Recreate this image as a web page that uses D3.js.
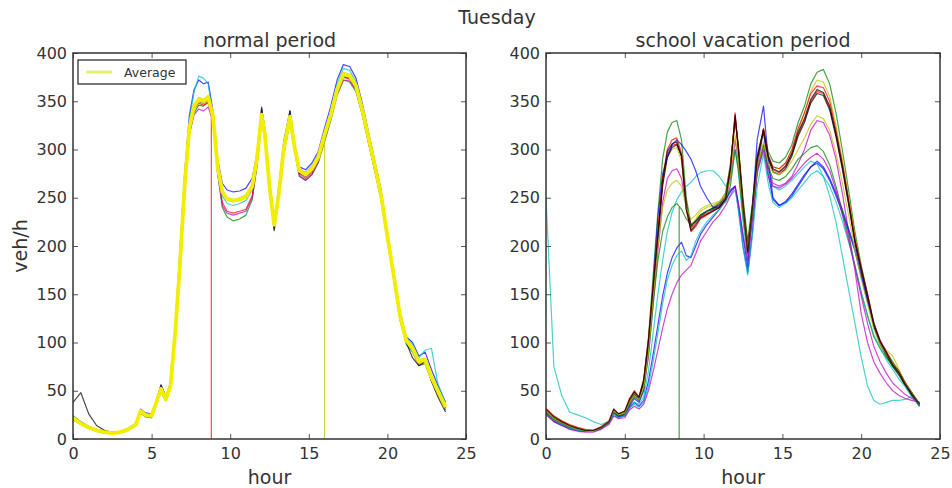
<!DOCTYPE html>
<html>
<head>
<meta charset="utf-8">
<script src="https://cdn.jsdelivr.net/npm/d3@7"></script>
<style>
  body { margin: 0; background: #fff; }
  svg { display: block; }
  text { font-family: "DejaVu Sans", sans-serif; fill: #333; }
</style>
</head>
<body>
<svg id="chart" width="952" height="488"></svg>
<script>
// Sampling hours shared by every daily profile
const hours = [0,0.5,1,1.5,2,2.5,3,3.5,4,4.3,4.6,5,5.3,5.6,5.9,6.2,6.5,6.8,7.1,7.4,7.7,8,8.3,8.6,8.9,9.2,9.5,9.8,10.2,10.6,11,11.4,11.7,12,12.2,12.5,12.8,13.1,13.4,13.8,14.1,14.4,14.8,15.2,15.6,16,16.4,16.8,17.2,17.6,18,18.4,18.8,19.2,19.6,20,20.4,20.8,21.2,21.6,22,22.4,22.8,23.2,23.7];

const xTicks = [0, 5, 10, 15, 20, 25];
const yTicks = [0, 50, 100, 150, 200, 250, 300, 350, 400];

// matplotlib classic colour cycle: b, g, r, c, m, y, k
const colorCycle = ["#0000ff", "#008000", "#ff0000", "#00bfbf", "#bf00bf", "#bfbf00", "#000000"];

// Normal period: individual Tuesdays (veh/h)
const normalB = [24,18,13,10,8,7,8,11,16,31,27,26,40,56,44,58,118,195,275,335,362,372,368,370,340,290,265,258,256,257,260,270,296,342,322,268,226,262,308,340,306,282,279,286,298,322,345,372,388,386,374,348,318,288,258,214,174,132,106,100,86,90,72,56,38];
const normalG = [20,15,11,8,6,6,6,9,14,27,23,22,36,50,40,52,105,172,255,315,338,346,345,350,330,275,240,230,226,228,232,248,282,330,310,255,218,250,294,328,298,272,268,274,286,308,330,356,372,370,360,336,306,278,248,205,166,124,98,90,76,78,60,46,30];
const normalR = [21,15,12,9,7,6,7,10,15,28,24,23,37,51,40,54,108,178,258,318,342,348,346,348,332,278,245,236,234,236,238,252,286,334,313,258,220,252,298,332,300,275,270,276,289,311,333,360,375,373,363,338,309,281,250,208,168,126,100,92,78,80,62,48,32];
const normalC = [23,17,13,10,8,7,8,11,16,30,26,25,39,54,43,57,115,188,270,330,360,376,374,368,336,285,252,244,242,244,247,258,288,338,318,264,224,258,304,338,304,280,276,283,295,318,340,368,384,382,370,346,316,286,256,212,172,130,105,98,84,92,94,58,36];
const normalM = [22,16,12,9,7,6,7,10,15,29,25,24,38,52,41,54,106,176,256,316,336,342,340,344,330,276,242,234,232,234,236,250,284,332,312,258,220,252,296,330,298,273,268,274,287,310,332,358,372,371,362,337,308,280,250,208,170,128,102,94,80,82,64,50,34];
const normalY = [22,16,12,9,7,6,7,10,15,29,25,24,38,52,41,55,110,182,262,322,346,354,352,356,336,284,258,250,248,250,253,264,292,338,318,264,224,256,302,336,304,280,276,282,294,316,338,364,380,378,368,343,314,285,254,212,172,130,104,96,82,84,66,52,35];
const normalK = [38,48,26,14,9,7,7,10,15,30,26,25,40,56,44,55,108,178,260,320,344,350,348,352,334,282,255,248,246,248,250,260,288,344,318,260,216,252,298,340,302,276,272,278,290,312,334,360,376,374,364,338,308,278,248,206,166,124,100,84,76,80,60,44,28];
const normalAverage = [22,16,12,9,7,6,7,10,15,29,25,24,38,52,41,55,110,180,262,322,345,352,350,354,335,282,256,249,247,248,251,262,290,336,316,262,222,255,300,334,302,278,274,280,292,315,336,362,378,376,366,341,312,283,252,210,170,128,102,94,80,82,64,50,33];
// Detector drop-outs: [series index, hour]
const normalDropouts = [[2, 8.8], [5, 16.0]];

// School vacation period: individual Tuesdays (veh/h)
const vacB  = [26,18,14,11,9,8,8,11,17,27,22,24,32,38,34,40,60,88,118,148,172,188,198,204,190,188,200,212,222,230,238,248,256,262,240,200,172,215,280,320,275,248,242,246,254,264,274,282,286,280,268,252,235,215,195,168,142,118,100,88,76,68,56,46,34];
const vacG  = [30,22,17,13,10,9,8,12,18,30,26,28,40,48,42,60,105,170,235,290,318,328,330,310,250,222,225,232,236,240,245,255,285,330,305,250,205,245,295,320,298,288,286,292,305,328,345,368,380,383,368,338,300,258,215,180,150,120,100,90,80,70,58,48,36];
const vacR  = [30,22,18,14,11,9,8,12,18,30,25,28,40,48,42,60,100,155,210,265,295,304,306,292,240,218,224,230,234,237,241,250,280,335,302,242,196,240,290,320,292,279,276,282,295,316,330,350,360,358,343,315,282,245,205,176,148,118,100,88,76,68,56,46,35];
const vacC  = [250,75,45,28,25,22,18,15,18,24,22,26,34,38,36,44,70,110,150,185,215,235,248,256,262,266,272,276,278,278,272,262,270,300,278,225,185,230,275,300,275,262,258,262,268,275,282,288,285,272,252,225,190,155,120,85,55,40,36,38,40,40,41,44,36];
const vacM  = [28,20,16,12,9,8,8,11,17,28,24,26,36,44,40,52,85,140,195,245,270,278,280,270,240,222,226,230,236,238,242,248,270,310,288,238,200,236,280,305,280,265,262,265,272,285,300,320,330,328,315,290,255,215,175,130,100,80,68,58,50,45,42,40,38];
const vacY  = [30,22,18,14,11,9,8,12,18,30,25,28,40,47,42,58,98,158,215,268,292,300,302,288,240,220,228,236,240,242,246,254,284,334,300,244,198,242,292,318,294,282,280,286,298,320,338,360,372,370,355,325,290,250,210,178,148,118,100,92,86,72,58,48,36];
const vacK  = [28,21,17,13,10,8,8,11,17,28,24,27,38,46,41,58,96,150,206,262,292,302,305,294,244,220,226,232,236,239,243,252,282,332,304,245,200,242,292,318,290,277,274,280,293,314,328,348,358,356,341,313,280,243,203,174,146,116,98,86,75,66,55,45,34];
const vacB2 = [27,19,15,11,9,8,8,11,17,28,23,25,34,42,38,50,95,160,230,275,292,305,310,305,298,290,278,262,250,240,240,248,258,262,245,210,178,240,310,345,290,250,242,245,252,262,272,282,288,282,270,255,238,218,198,170,144,120,102,90,78,70,58,48,36];
const vacG2 = [28,20,16,12,10,8,8,11,17,28,24,26,36,44,40,52,88,140,185,215,230,240,244,238,228,222,226,232,236,238,240,246,262,300,280,232,192,232,278,305,282,270,268,272,280,290,296,302,304,298,284,262,236,210,180,152,128,106,94,84,76,68,58,48,36];
const vacR2 = [32,24,19,15,12,10,9,13,19,31,26,29,42,50,44,62,104,160,215,270,300,310,312,296,238,215,220,228,232,236,240,248,278,338,300,240,193,238,288,322,294,282,280,286,300,322,338,358,366,364,350,320,286,248,208,178,150,120,102,90,78,70,58,48,37];
const vacC2 = [26,19,15,11,9,8,8,11,16,26,22,24,32,36,33,38,55,80,110,140,165,180,190,195,185,190,205,215,225,232,238,246,252,258,238,198,170,210,262,295,265,245,240,244,250,258,266,274,278,272,262,246,226,204,180,152,128,108,94,82,72,62,54,44,34];
const vacM2 = [25,18,14,10,8,7,7,10,15,24,21,22,30,34,31,36,50,70,92,115,135,150,162,170,175,180,192,205,215,225,232,242,252,262,245,212,185,228,276,300,272,262,260,264,270,278,286,292,296,290,278,258,232,206,178,148,120,96,80,68,58,52,46,42,38];
const vacY2 = [29,21,17,13,10,9,8,12,18,29,25,27,38,45,41,54,90,148,200,240,258,265,268,262,240,228,232,238,242,244,246,252,272,315,290,238,198,236,282,308,286,276,274,278,288,300,312,326,335,332,320,296,266,232,196,166,140,114,98,88,78,70,58,48,36];
const vacK2 = [31,23,18,14,11,9,9,12,18,31,26,29,41,49,43,61,102,158,212,268,298,306,308,293,238,216,222,229,233,236,240,249,279,336,301,241,194,239,289,321,293,280,277,283,296,318,332,352,362,359,345,317,284,246,206,177,149,119,101,89,77,69,57,47,36];
const vacationDropouts = [[8, 8.45]];

const normalSeries = [normalB, normalG, normalR, normalC, normalM, normalY, normalK];
const vacationSeries = [vacB, vacG, vacR, vacC, vacM, vacY, vacK, vacB2, vacG2, vacR2, vacC2, vacM2, vacY2, vacK2];

const svg = d3.select("#chart");
const plotTop = 53, plotBottom = 439;

svg.append("text")
  .attr("x", 497).attr("y", 24)
  .attr("text-anchor", "middle")
  .style("font-size", "19px")
  .text("Tuesday");

// Turn a value list into points, splicing in zero readings at drop-out hours
function toPoints(values, drops) {
  const pts = hours.map((h, i) => [h, values[i]]);
  drops.forEach(h => {
    const j = d3.bisectLeft(hours, h);
    const h0 = hours[j - 1], h1 = hours[j];
    const v = values[j - 1] + (values[j] - values[j - 1]) * (h - h0) / (h1 - h0);
    pts.splice(j, 0, [h, v], [h, 0], [h, v]);
  });
  return pts;
}

function drawPanel(id, left, right, title, series, drops, average, showYLabel) {
  const x = d3.scaleLinear().domain([0, 25]).range([left, right]);
  const y = d3.scaleLinear().domain([0, 400]).range([plotBottom, plotTop]);
  const g = svg.append("g");

  g.append("clipPath").attr("id", "clip-" + id)
    .append("rect")
    .attr("x", left).attr("y", plotTop)
    .attr("width", right - left).attr("height", plotBottom - plotTop);

  const line = d3.line().x(d => x(d[0])).y(d => y(d[1]));
  const plot = g.append("g").attr("clip-path", `url(#clip-${id})`);

  series.forEach((vals, i) => {
    const myDrops = drops.filter(d => d[0] === i).map(d => d[1]);
    plot.append("path")
      .datum(toPoints(vals, myDrops))
      .attr("fill", "none")
      .attr("stroke", colorCycle[i % colorCycle.length])
      .attr("stroke-width", 1.2)
      .attr("stroke-opacity", 0.72)
      .attr("stroke-linejoin", "round")
      .attr("d", line);
  });

  if (average) {
    plot.append("path")
      .datum(toPoints(average, []))
      .attr("fill", "none")
      .attr("stroke", "#f2ee00")
      .attr("stroke-width", 3.8)
      .attr("stroke-linejoin", "round")
      .attr("d", line);
  }

  // Axes with inward ticks on all four sides
  const tickLen = 5;
  const axB = g.append("g").attr("transform", `translate(0,${plotBottom})`)
    .call(d3.axisBottom(x).tickValues(xTicks).tickSizeInner(-tickLen).tickSizeOuter(0).tickPadding(9));
  const axT = g.append("g").attr("transform", `translate(0,${plotTop})`)
    .call(d3.axisTop(x).tickValues(xTicks).tickSizeInner(-tickLen).tickSizeOuter(0).tickFormat(""));
  const axL = g.append("g").attr("transform", `translate(${left},0)`)
    .call(d3.axisLeft(y).tickValues(yTicks).tickSizeInner(-tickLen).tickSizeOuter(0).tickPadding(6));
  const axR = g.append("g").attr("transform", `translate(${right},0)`)
    .call(d3.axisRight(y).tickValues(yTicks).tickSizeInner(-tickLen).tickSizeOuter(0).tickFormat(""));
  [axB, axT, axL, axR].forEach(a => {
    a.select(".domain").remove();
    a.selectAll(".tick line").attr("stroke", "#555").attr("stroke-width", 1);
    a.selectAll(".tick text")
      .style("font-family", '"DejaVu Sans", sans-serif')
      .style("font-size", "16px")
      .attr("fill", "#333");
  });
  axB.selectAll(".tick text").attr("dy", "0.71em");

  g.append("rect")
    .attr("x", left).attr("y", plotTop)
    .attr("width", right - left).attr("height", plotBottom - plotTop)
    .attr("fill", "none")
    .attr("stroke", "#333")
    .attr("stroke-width", 1.5);

  g.append("text")
    .attr("x", (left + right) / 2).attr("y", 47)
    .attr("text-anchor", "middle")
    .style("font-size", "19px")
    .text(title);

  g.append("text")
    .attr("x", (left + right) / 2).attr("y", 484)
    .attr("text-anchor", "middle")
    .style("font-size", "19px")
    .text("hour");

  if (showYLabel) {
    g.append("text")
      .attr("transform", `translate(27,${(plotTop + plotBottom) / 2}) rotate(-90)`)
      .attr("text-anchor", "middle")
      .style("font-size", "19px")
      .text("veh/h");
  }

  return { x, y, g };
}

const normal = drawPanel("normal", 73, 466, "normal period", normalSeries, normalDropouts, normalAverage, true);
drawPanel("vacation", 546, 940, "school vacation period", vacationSeries, vacationDropouts, null, false);

// Legend for the average profile
const lg = normal.g.append("g");
lg.append("rect")
  .attr("x", 78).attr("y", 60).attr("width", 108).attr("height", 24)
  .attr("fill", "#fff").attr("stroke", "#222").attr("stroke-width", 1.2);
lg.append("line")
  .attr("x1", 86).attr("x2", 112).attr("y1", 72).attr("y2", 72)
  .attr("stroke", "#e8f070").attr("stroke-width", 3);
lg.append("text")
  .attr("x", 124).attr("y", 76.5)
  .style("font-size", "12.5px")
  .text("Average");
</script>
</body>
</html>
